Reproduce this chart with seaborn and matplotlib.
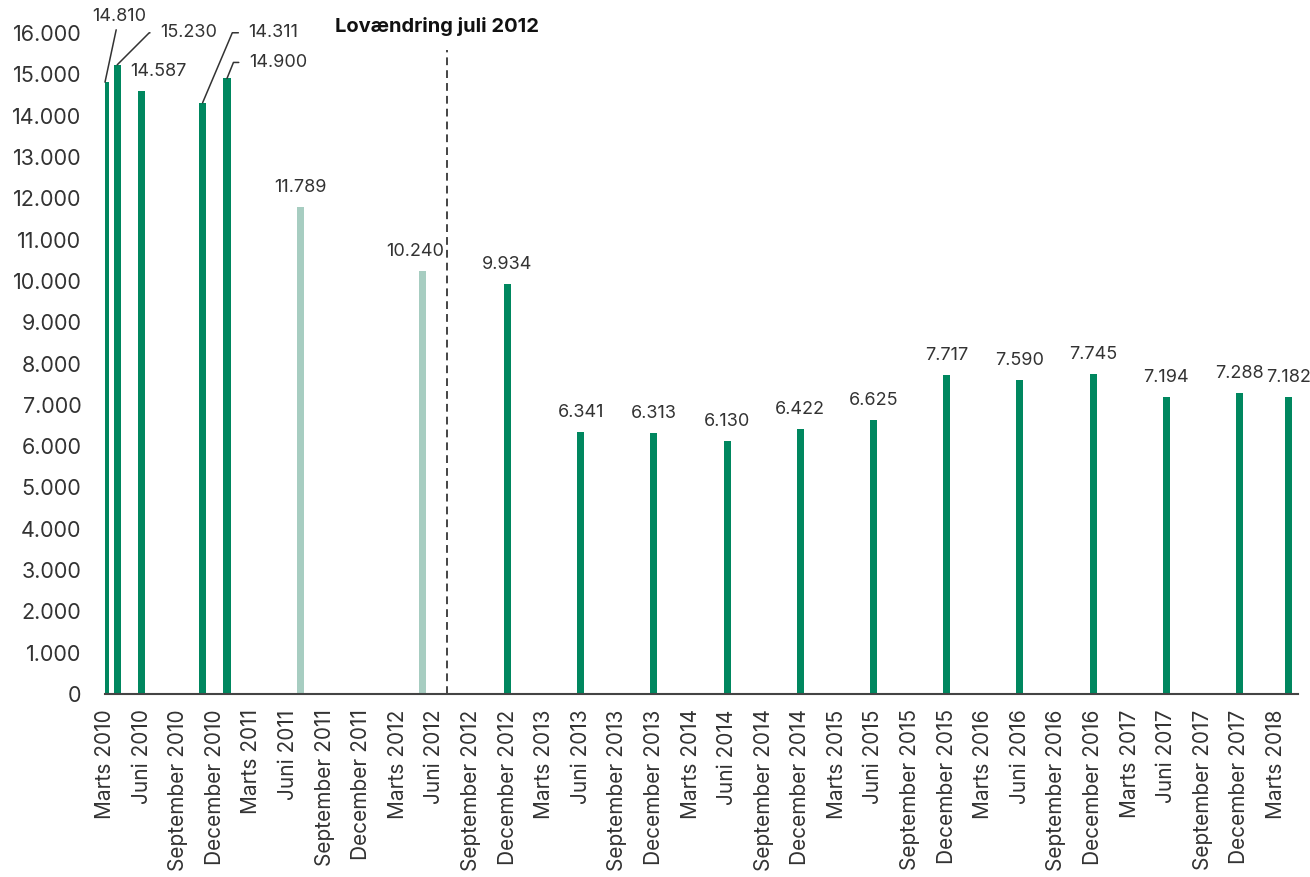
import matplotlib
matplotlib.use('Agg')
import matplotlib.pyplot as plt
import seaborn as sns
import pandas as pd

# maanedsakse fra marts 2010 til april 2018, hver tredje maaned faar label
maaneder = ['Januar', 'Februar', 'Marts', 'April', 'Maj', 'Juni', 'Juli',
            'August', 'September', 'Oktober', 'November', 'December']
akse = [maaneder[(2 + i) % 12] + ' ' + str(2010 + (2 + i) // 12) for i in range(98)]

perioder = ['Marts 2010', 'April 2010', 'Juni 2010', 'November 2010', 'Januar 2011',
            'Juli 2011', 'Maj 2012', 'December 2012', 'Juni 2013', 'December 2013',
            'Juni 2014', 'December 2014', 'Juni 2015', 'December 2015', 'Juni 2016',
            'December 2016', 'Juni 2017', 'December 2017', 'April 2018']
antal = [14810, 15230, 14587, 14311, 14900, 11789, 10240, 9934, 6341, 6313,
         6130, 6422, 6625, 7717, 7590, 7745, 7194, 7288, 7182]
serie = ['hel', 'hel', 'hel', 'hel', 'hel', 'lys', 'lys', 'hel', 'hel', 'hel',
         'hel', 'hel', 'hel', 'hel', 'hel', 'hel', 'hel', 'hel', 'hel']
lov_maaned = 'Juli 2012'

farver = {'hel': '#00875f', 'lys': '#a7cdc1'}
tekst_farve = '#333333'

sns.set_theme(style='white')
plt.rcParams['font.family'] = ['Inter', 'DejaVu Sans']

df = pd.DataFrame({'periode': perioder, 'antal': antal, 'serie': serie})

fig = plt.figure(figsize=(13.1, 8.77), dpi=100)
ax = fig.add_axes([105 / 1310, 183 / 877, 1193 / 1310, 661 / 877])

sns.barplot(data=df, x='periode', y='antal', hue='serie', order=akse,
            palette=farver, dodge=False, width=0.58, legend=False,
            saturation=1, linewidth=0, ax=ax)

ax.set_xlim(0, 97.8)
ax.set_ylim(0, 16000)
ax.set_yticks(range(0, 16001, 1000))
ax.set_yticklabels([f'{v:,}'.replace(',', '.') for v in range(0, 16001, 1000)],
                   fontsize=15.5, color=tekst_farve)
ax.set_xticks(range(0, len(akse), 3))
ax.set_xticklabels(akse[::3], rotation=90, fontsize=15, color=tekst_farve)
ax.tick_params(axis='y', length=0, pad=17)
ax.tick_params(axis='x', length=0, pad=11)
ax.set_xlabel('')
ax.set_ylabel('')

for s in ['top', 'right', 'left']:
    ax.spines[s].set_visible(False)
ax.spines['bottom'].set_color('#444444')
ax.spines['bottom'].set_linewidth(1.5)

# labels med streg (px-forskydning, vinkel paa streg)
streg = {'April 2010': (43, 32, 45), 'November 2010': (46, 70, 67),
         'Januar 2011': (22, 16, 68)}
flyt = {'Juni 2010': 17, 'Maj 2012': -7}

for p, v in zip(perioder, antal):
    x = akse.index(p)
    txt = f'{v:,}'.replace(',', '.')
    if p in streg:
        dx, dy, vinkel = streg[p]
        ax.annotate(txt, xy=(x, v), xytext=(dx, dy), textcoords='offset pixels',
                    ha='left', va='center', fontsize=13, color=tekst_farve,
                    annotation_clip=False,
                    arrowprops=dict(arrowstyle='-', color=tekst_farve, lw=1.1,
                                    shrinkA=5, shrinkB=0,
                                    connectionstyle=f'angle,angleA=0,angleB={vinkel},rad=0'))
    elif p == perioder[0]:
        ax.annotate(txt, xy=(x, v), xytext=(14, 57), textcoords='offset pixels',
                    ha='center', va='bottom', fontsize=13, color=tekst_farve,
                    annotation_clip=False,
                    arrowprops=dict(arrowstyle='-', color=tekst_farve, lw=1.1,
                                    shrinkA=1, shrinkB=0))
    else:
        ax.annotate(txt, xy=(x, v), xytext=(flyt.get(p, 0), 11),
                    textcoords='offset pixels', ha='center', va='bottom',
                    fontsize=13, color=tekst_farve, annotation_clip=False)

lov = akse.index(lov_maaned)
ax.vlines(lov, 0, 15600, colors='#444444', linewidth=1.4, linestyles=(0, (4, 2.6)))
ax.annotate('Lovændring juli 2012', xy=(lov, 15600), xytext=(-10, 23),
            textcoords='offset pixels', ha='center', va='center',
            fontsize=14.5, fontweight='bold', color='#111111',
            annotation_clip=False)

plt.savefig('out.png', dpi=100)
